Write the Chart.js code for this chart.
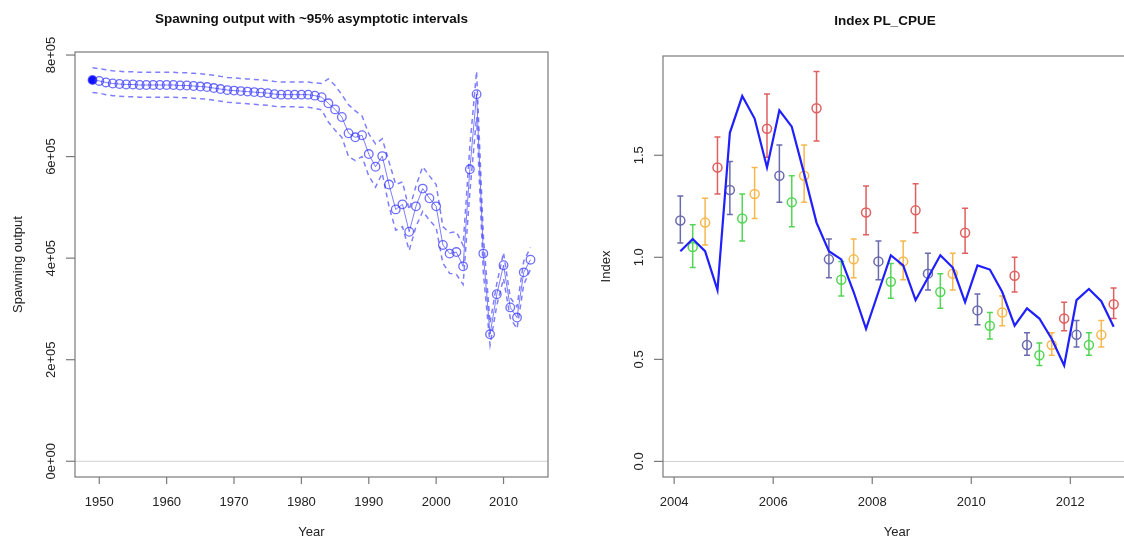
<!DOCTYPE html>
<html>
<head>
<meta charset="utf-8">
<script src="https://cdn.jsdelivr.net/npm/chart.js@4.4.1/dist/chart.umd.min.js"></script>
<style>
	html, body { margin:0; padding:0; background:#fff; }
	body { width:1124px; height:542px; overflow:hidden; position:relative; }
	canvas { position:absolute; top:0; }
	#spawnCanvas { left:0; }
	#cpueCanvas { left:560px; }
</style>
</head>
<body>
<canvas id="spawnCanvas" width="560" height="542"></canvas>
<canvas id="cpueCanvas" width="600" height="542"></canvas>
<script>
// spawning output by year
const spawnYears = [1949,1950,1951,1952,1953,1954,1955,1956,1957,1958,1959,1960,1961,1962,1963,1964,1965,1966,1967,1968,1969,
	1970,1971,1972,1973,1974,1975,1976,1977,1978,1979,1980,1981,1982,1983,1984,1985,1986,1987,1988,1989,
	1990,1991,1992,1993,1994,1995,1996,1997,1998,1999,2000,2001,2002,2003,2004,2005,2006,2007,2008,2009,
	2010,2011,2012,2013,2014];
const spawnOutput = [751000,749000,746000,744000,743000,742000,742000,741000,741000,741000,741000,741000,741000,740000,740000,739000,738000,737000,735000,733000,731000,
	730000,729000,728000,727000,726000,725000,723000,722000,722000,722000,722000,722000,720000,717000,705000,693000,678000,646000,638000,642000,
	605000,580000,601000,545000,496000,506000,452000,502000,537000,518000,502000,426000,409000,412000,384000,575000,723000,409000,250000,329000,
	386000,303000,283000,372000,397000];
const spawnUpper = [775000,773000,771000,769000,768000,767000,767000,766000,766000,766000,766000,766000,766000,765000,765000,764000,763000,762000,760000,758000,756000,
	755000,754000,753000,752000,751000,750000,748000,747000,747000,747000,747000,747000,745000,744000,753000,740000,722000,702000,690000,680000,
	645000,625000,635000,590000,545000,550000,495000,542000,580000,562000,545000,462000,450000,452000,425000,620000,768000,445000,272000,350000,
	411000,322000,304000,394000,421000];
const spawnLower = [726000,725000,722000,720000,719000,718000,718000,717000,717000,717000,717000,717000,717000,716000,716000,715000,714000,713000,711000,709000,707000,
	706000,705000,704000,703000,702000,701000,699000,698000,698000,698000,697000,697000,695000,692000,668000,652000,638000,600000,592000,600000,
	562000,540000,567000,502000,455000,462000,415000,462000,492000,475000,460000,390000,370000,368000,348000,530000,678000,372000,229000,307000,
	360000,282000,261000,348000,378000];
const spawnXTicks = [1950,1960,1970,1980,1990,2000,2010];
const spawnYTicks = [0,200000,400000,600000,800000];
const spawnYLabels = ['0e+00','2e+05','4e+05','6e+05','8e+05'];

// PL_CPUE index, quarterly 2004-2012
const cpueTime = [2004.125,2004.375,2004.625,2004.875,2005.125,2005.375,2005.625,2005.875,2006.125,2006.375,2006.625,2006.875,
	2007.125,2007.375,2007.625,2007.875,2008.125,2008.375,2008.625,2008.875,2009.125,2009.375,2009.625,2009.875,
	2010.125,2010.375,2010.625,2010.875,2011.125,2011.375,2011.625,2011.875,2012.125,2012.375,2012.625,2012.875];
const cpueObs = [1.18,1.05,1.17,1.44, 1.33,1.19,1.31,1.63, 1.40,1.27,1.40,1.73,
	0.99,0.89,0.99,1.22, 0.98,0.88,0.98,1.23, 0.92,0.83,0.92,1.12,
	0.74,0.665,0.73,0.91, 0.57,0.52,0.57,0.70, 0.62,0.57,0.62,0.77];
const cpueLow = [1.07,0.95,1.06,1.31, 1.21,1.08,1.19,1.49, 1.27,1.15,1.27,1.57,
	0.90,0.81,0.90,1.11, 0.89,0.80,0.89,1.12, 0.84,0.75,0.84,1.02,
	0.67,0.60,0.665,0.83, 0.52,0.47,0.52,0.64, 0.56,0.52,0.56,0.70];
const cpueHigh = [1.30,1.16,1.29,1.59, 1.47,1.31,1.44,1.80, 1.55,1.40,1.55,1.91,
	1.09,0.98,1.09,1.35, 1.08,0.97,1.08,1.36, 1.02,0.92,1.02,1.24,
	0.82,0.73,0.81,1.00, 0.63,0.58,0.63,0.78, 0.69,0.63,0.69,0.85];
const cpueExp = [1.03,1.09,1.03,0.84, 1.61,1.79,1.68,1.44, 1.72,1.64,1.41,1.17,
	1.03,0.99,0.83,0.65, 0.83,1.01,0.96,0.79, 0.90,1.01,0.95,0.78,
	0.96,0.94,0.83,0.665, 0.75,0.70,0.60,0.47, 0.79,0.845,0.785,0.66];
const cpueXTicks = [2004,2006,2008,2010,2012];
const cpueYTicks = [0,0.5,1.0,1.5];
const cpueYLabels = ['0.0','0.5','1.0','1.5'];
const quarterColors = ['#6a6aae','#55d555','#f6b84e','#df6060'];

const FONT = "'Liberation Sans', Arial, sans-serif";

// R style frame: box, outward ticks, rotated y labels, titles
const rFrame = {
	id:'rFrame',
	beforeDatasetsDraw(chart, args, opts){
		let a = chart.chartArea, ctx = chart.ctx, y0 = chart.scales.y.getPixelForValue(0);
		ctx.save();
		ctx.strokeStyle = '#d0d0d0';
		ctx.lineWidth = 1;
		ctx.beginPath();
		ctx.moveTo(a.left, y0); ctx.lineTo(a.right, y0);
		ctx.stroke();
		ctx.restore();
		if (opts.errorBars) opts.errorBars(chart);
	},
	afterDraw(chart, args, opts){
		let a = chart.chartArea, ctx = chart.ctx;
		let xs = chart.scales.x, ys = chart.scales.y;
		ctx.save();
		ctx.strokeStyle = '#7a7a7a';
		ctx.lineWidth = 1.2;
		ctx.strokeRect(a.left, a.top, a.right - a.left, a.bottom - a.top);
		ctx.fillStyle = '#222';
		ctx.font = '13px ' + FONT;
		ctx.textAlign = 'center';
		ctx.textBaseline = 'middle';
		opts.xTicks.forEach(function(v){
			let x = xs.getPixelForValue(v);
			ctx.beginPath(); ctx.moveTo(x, a.bottom); ctx.lineTo(x, a.bottom + 7); ctx.stroke();
			ctx.fillText(String(v), x, a.bottom + 25);
		});
		opts.yTicks.forEach(function(v, i){
			let y = ys.getPixelForValue(v);
			ctx.beginPath(); ctx.moveTo(a.left - 9, y); ctx.lineTo(a.left, y); ctx.stroke();
			ctx.save();
			ctx.translate(a.left - 24, y);
			ctx.rotate(-Math.PI / 2);
			ctx.fillText(opts.yLabels[i], 0, 0);
			ctx.restore();
		});
		ctx.fillText(opts.xTitle, opts.xTitleX || (a.left + a.right) / 2, a.bottom + 55);
		ctx.save();
		ctx.translate(a.left - 57, (a.top + a.bottom) / 2);
		ctx.rotate(-Math.PI / 2);
		ctx.fillText(opts.yTitle, 0, 0);
		ctx.restore();
		ctx.fillStyle = '#111';
		ctx.font = 'bold 13.5px ' + FONT;
		ctx.fillText(opts.title, opts.titleX || (a.left + a.right) / 2, a.top - opts.titleGap);
		ctx.restore();
	}
};

function baseOptions(xmin, xmax, ymin, ymax, padding){
	return {
		responsive:false,
		animation:false,
		devicePixelRatio:1,
		layout:{padding:padding},
		plugins:{legend:{display:false}, tooltip:{enabled:false}},
		scales:{
			x:{type:'linear', min:xmin, max:xmax, display:false},
			y:{type:'linear', min:ymin, max:ymax, display:false}
		}
	};
}

function xy(xv, yv){
	return xv.map(function(x, i){ return {x:x, y:yv[i]}; });
}

// left panel
let spawnOpts = baseOptions(1946.4, 2016.6, -31000, 806000, {left:75, top:52, right:12, bottom:65});
spawnOpts.plugins.rFrame = {
	title:'Spawning output with ~95% asymptotic intervals', titleGap:33,
	xTitle:'Year', yTitle:'Spawning output',
	xTicks:spawnXTicks, yTicks:spawnYTicks, yLabels:spawnYLabels
};
new Chart(document.getElementById('spawnCanvas'), {
	type:'line',
	data:{
		datasets:[
			{data:xy(spawnYears, spawnUpper), borderColor:'rgba(40,40,255,0.6)', borderWidth:1.5, borderDash:[5,4], pointRadius:0, tension:0},
			{data:xy(spawnYears, spawnLower), borderColor:'rgba(40,40,255,0.6)', borderWidth:1.5, borderDash:[5,4], pointRadius:0, tension:0},
			{
				data:xy(spawnYears, spawnOutput),
				borderColor:'rgba(40,40,255,0.6)', borderWidth:1,
				pointRadius:4.3, pointBorderWidth:1.3,
				pointBorderColor:'rgba(50,50,255,0.7)',
				pointBackgroundColor:function(c){ return c.dataIndex === 0 ? '#1010ff' : 'rgba(0,0,0,0)'; },
				tension:0
			}
		]
	},
	options:spawnOpts,
	plugins:[rFrame]
});

// right panel
function drawErrorBars(chart){
	let ctx = chart.ctx, xs = chart.scales.x, ys = chart.scales.y;
	ctx.save();
	ctx.lineWidth = 1.5;
	cpueTime.forEach(function(t, i){
		let x = xs.getPixelForValue(t);
		let yl = ys.getPixelForValue(cpueLow[i]), yh = ys.getPixelForValue(cpueHigh[i]);
		ctx.strokeStyle = quarterColors[i % 4];
		ctx.beginPath();
		ctx.moveTo(x, yl); ctx.lineTo(x, yh);
		ctx.moveTo(x - 3, yl); ctx.lineTo(x + 3, yl);
		ctx.moveTo(x - 3, yh); ctx.lineTo(x + 3, yh);
		ctx.stroke();
	});
	ctx.restore();
}

let cpueSets = [{
	type:'line', data:xy(cpueTime, cpueExp), borderColor:'#1f1fff', borderWidth:2.2, pointRadius:0, tension:0, order:0
}];
quarterColors.forEach(function(col, q){
	let pts = [];
	cpueTime.forEach(function(t, i){ if (i % 4 === q) pts.push({x:t, y:cpueObs[i]}); });
	cpueSets.push({
		type:'scatter', data:pts, showLine:false,
		pointRadius:4.5, pointBorderWidth:1.5, pointBorderColor:col, pointBackgroundColor:'rgba(255,255,255,0)', order:1
	});
});

let cpueOpts = baseOptions(2003.775, 2013.225, -0.0764, 1.9864, {left:103, top:56, right:29, bottom:65});
cpueOpts.plugins.rFrame = {
	title:'Index PL_CPUE', titleGap:35, titleX:325,
	xTitle:'Year', xTitleX:337, yTitle:'Index',
	xTicks:cpueXTicks, yTicks:cpueYTicks, yLabels:cpueYLabels,
	errorBars:drawErrorBars
};
new Chart(document.getElementById('cpueCanvas'), {
	type:'line',
	data:{datasets:cpueSets},
	options:cpueOpts,
	plugins:[rFrame]
});
</script>
</body>
</html>
